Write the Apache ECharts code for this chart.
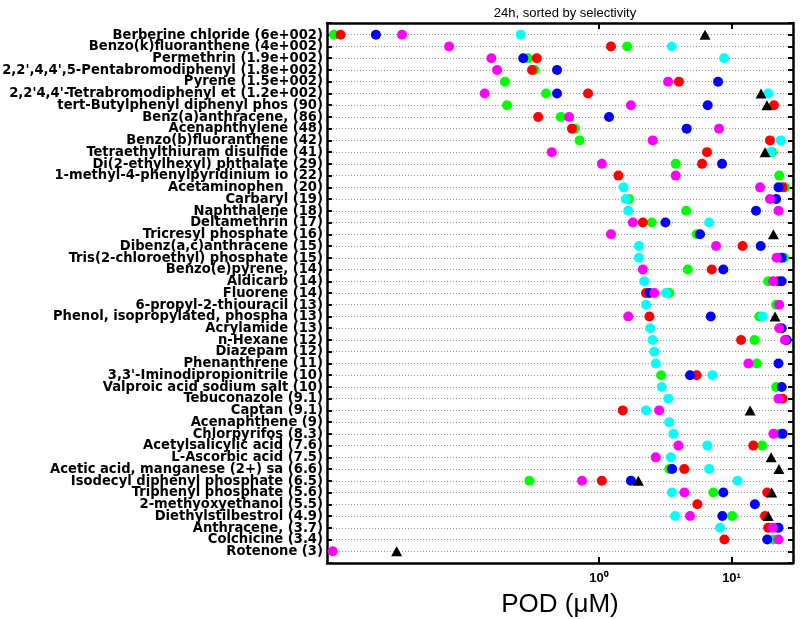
<!DOCTYPE html>
<html>
<head>
<meta charset="utf-8">
<script src="https://cdn.jsdelivr.net/npm/echarts@6/dist/echarts.min.js"></script>
<style>
    html, body { margin: 0; padding: 0; background: #fff; }
    #chart { width: 800px; height: 619px; }
</style>
</head>
<body>
<div id="chart"></div>
<script>
const chemicals = [
    'Berberine chloride (6e+002)', 'Benzo(k)fluoranthene (4e+002)', 'Permethrin (1.9e+002)',
    "2,2',4,4',5-Pentabromodiphenyl (1.8e+002)", 'Pyrene (1.5e+002)', "2,2'4,4'-Tetrabromodiphenyl et (1.2e+002)",
    'tert-Butylphenyl diphenyl phos (90)', 'Benz(a)anthracene, (86)', 'Acenaphthylene (48)',
    'Benzo(b)fluoranthene (42)', 'Tetraethylthiuram disulfide (41)', 'Di(2-ethylhexyl) phthalate (29)',
    '1-methyl-4-phenylpyridinium io (22)', 'Acetaminophen  (20)', 'Carbaryl (19)',
    'Naphthalene (18)', 'Deltamethrin (17)', 'Tricresyl phosphate (16)',
    'Dibenz(a,c)anthracene (15)', 'Tris(2-chloroethyl) phosphate (15)', 'Benzo(e)pyrene, (14)',
    'Aldicarb (14)', 'Fluorene (14)', '6-propyl-2-thiouracil (13)',
    'Phenol, isopropylated, phospha (13)', 'Acrylamide (13)', 'n-Hexane (12)',
    'Diazepam (12)', 'Phenanthrene (11)', "3,3'-Iminodipropionitrile (10)",
    'Valproic acid sodium salt (10)', 'Tebuconazole (9.1)', 'Captan (9.1)',
    'Acenaphthene (9)', 'Chlorpyrifos (8.3)', 'Acetylsalicylic acid (7.6)',
    'L-Ascorbic acid (7.5)', 'Acetic acid, manganese (2+) sa (6.6)', 'Isodecyl diphenyl phosphate (6.5)',
    'Triphenyl phosphate (5.6)', '2-methyoxyethanol (5.5)', 'Diethylstilbestrol (4.9)',
    'Anthracene, (3.7)', 'Colchicine (3.4)', 'Rotenone (3)'
];

// POD values (uM), one entry per chemical, null = not shown
const greenPOD = [0.010, 1.63, 0.291, 0.327, 0.195, 0.398, 0.202, 0.514, 0.659, 0.713,
    20.2, 3.79, 22.9, 25.3, 1.68, 4.54, 2.50, 5.46, null, 24.9,
    4.67, 18.9, 3.39, 21.7, 16.2, null, 14.9, null, 15.5, 2.94,
    21.7, null, null, null, 22.9, 17.0, null, 3.39, 0.298, 7.29,
    null, 10.1, 21.7, 20.7, null];
const redPOD = [0.0112, 1.23, 0.339, 0.312, 4.01, 0.826, 20.9, 0.347, 0.625, 19.5,
    6.53, 5.99, 1.40, 24.3, null, null, 2.14, null, 12.1, null,
    7.09, 22.6, 2.26, null, 2.40, null, 11.8, null, null, 5.46,
    null, 24.3, 1.51, null, null, 14.6, null, 4.40, 1.05, 18.6,
    5.52, 17.9, 18.9, 8.83, null];
const bluePOD = [0.0207, null, 0.268, 0.482, 7.91, 0.482, 6.61, 1.19, 4.59, null,
    null, 8.48, null, 22.6, 21.7, 15.3, 3.17, 5.78, 16.6, 23.9,
    8.67, 23.9, 2.40, null, 6.97, 23.9, 26.1, null, 22.6, 4.86,
    23.9, null, null, null, 24.3, null, null, 3.56, 1.74, 8.67,
    15.0, 8.52, 22.6, 18.6, null];
const magentaPOD = [0.0326, 0.0738, 0.154, 0.170, 3.32, 0.137, 1.74, 0.594, 8.05, 2.54,
    0.440, 1.05, 3.79, 16.4, 19.5, 22.6, 1.80, 1.23, 7.64, 21.9,
    2.14, 20.6, 2.61, 22.9, 1.66, 22.9, 25.3, null, 13.4, null,
    null, 22.6, 2.84, null, 20.7, 3.97, 2.68, null, 0.744, 4.40,
    null, 4.86, 20.5, 22.6, 0.00977];
const cyanPOD = [0.256, 3.54, 8.78, null, null, 18.9, null, null, null, 23.5,
    19.7, null, null, 1.53, 1.59, 1.66, 6.77, null, 2.00, 2.00,
    null, 2.19, 3.20, 2.26, 17.2, 2.43, 2.53, 2.61, 2.68, 7.16,
    2.97, 3.33, 2.26, 3.38, 3.64, 6.57, 3.48, 6.77, 11.1, 3.54,
    null, 3.75, 8.19, null, null];
const blackPOD = [6.31, null, null, null, null, 16.7, 18.5, null, null, null,
    17.9, null, null, null, null, null, null, 20.7, null, null,
    null, null, null, null, 21.3, null, null, null, null, null,
    null, null, 13.8, null, null, null, 19.9, 22.8, 1.98, 20.1,
    null, 18.9, null, null, 0.0297];

const xTickValues = [1, 10];
const xTickLabels = ['10\u2070', '10\u00b9'];

const markerSets = [
    { values: greenPOD, color: '#00ff00', symbol: 'circle' },
    { values: redPOD, color: '#ff0000', symbol: 'circle' },
    { values: bluePOD, color: '#0000ff', symbol: 'circle' },
    { values: magentaPOD, color: '#ff00ff', symbol: 'circle' },
    { values: cyanPOD, color: '#00ffff', symbol: 'circle' },
    { values: blackPOD, color: '#000000', symbol: 'triangle' }
];

const chart = echarts.init(document.getElementById('chart'));

const font = "'Liberation Sans', Arial, sans-serif";
const labelFont = "'DejaVu Sans Condensed', 'Liberation Sans', sans-serif";
const rows = chemicals.length;

const tickStyle = { color: '#000', width: 2 };
const frameLine = { show: true, onZero: false, lineStyle: { color: '#000', width: 2.5 } };
const yCommon = {
    type: 'value',
    min: 0,
    max: rows + 1,
    interval: 1,
    inverse: true,
    axisLine: frameLine
};
const xCommon = {
    type: 'log',
    logBase: 10,
    min: 0.00885,
    max: 29.1,
    splitLine: { show: false },
    axisLine: frameLine,
    axisTick: { show: true, inside: true, length: 6, customValues: xTickValues, lineStyle: tickStyle }
};

chart.setOption({
    animation: false,
    backgroundColor: '#fff',
    title: {
        text: '24h, sorted by selectivity',
        left: 560,
        top: 2,
        textAlign: 'center',
        textStyle: { fontFamily: font, fontSize: 13, fontWeight: 'normal', color: '#000' }
    },
    grid: { left: 327, right: 7, top: 23, bottom: 56, outerBoundsMode: 'none' },
    xAxis: [
        Object.assign({}, xCommon, {
            position: 'bottom',
            name: 'POD (\u03bcM)',
            nameLocation: 'middle',
            nameGap: 29,
            nameTextStyle: { fontFamily: font, fontSize: 26, color: '#000' },
            axisLabel: {
                customValues: xTickValues,
                formatter: v => xTickLabels[xTickValues.indexOf(Math.round(v))] || '',
                fontFamily: font, fontSize: 13, fontWeight: 'bold', color: '#000', margin: 9
            }
        }),
        Object.assign({}, xCommon, {
            position: 'top',
            axisLabel: { show: false }
        })
    ],
    yAxis: [
        Object.assign({}, yCommon, {
            position: 'left',
            axisTick: { show: true, inside: true, length: 5, lineStyle: tickStyle },
            axisLabel: {
                formatter: v => chemicals[v - 1] || '',
                fontFamily: labelFont, fontSize: 14.6, fontWeight: 'bold', color: '#000', margin: 4
            },
            splitLine: { show: true, lineStyle: { color: '#999', width: 1, type: [1, 2] } }
        }),
        Object.assign({}, yCommon, {
            position: 'right',
            axisTick: { show: true, inside: true, length: 5, lineStyle: tickStyle },
            axisLabel: { show: false },
            splitLine: { show: false }
        })
    ],
    series: markerSets.map(set => ({
        type: 'scatter',
        xAxisIndex: 0,
        yAxisIndex: 0,
        symbol: set.symbol,
        symbolSize: set.symbol === 'triangle' ? [11, 10] : 10,
        itemStyle: { color: set.color, opacity: 1 },
        emphasis: { disabled: true },
        data: set.values
            .map((v, i) => v == null ? null : [v, i + 1])
            .filter(d => d !== null)
    }))
});
</script>
</body>
</html>
